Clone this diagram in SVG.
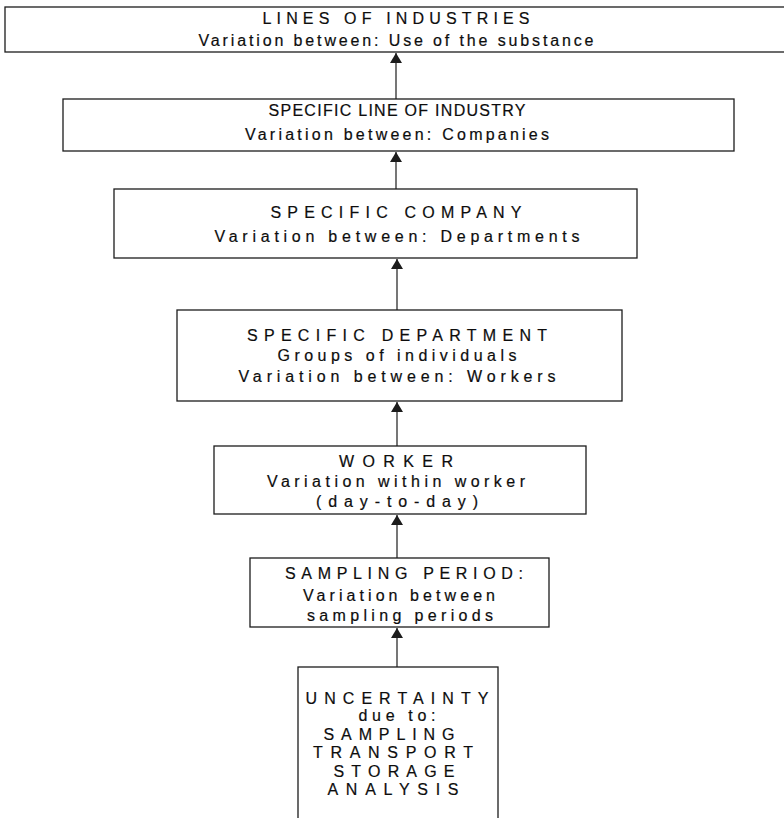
<svg xmlns="http://www.w3.org/2000/svg" width="784" height="818" viewBox="0 0 784 818">
  <style>
    .box { fill: #ffffff; stroke: #1c1c1c; stroke-width: 1.3; }
    .lbl { font-family: "Liberation Sans", Arial, Helvetica, sans-serif; font-size: 16px; fill: #0d0d0d; stroke: #0d0d0d; stroke-width: 0.2; text-anchor: middle; }
    .conn { stroke: #1c1c1c; stroke-width: 1.2; fill: none; marker-end: url(#head); }
  </style>
  <defs>
    <marker id="head" markerUnits="userSpaceOnUse" markerWidth="14" markerHeight="12" viewBox="0 0 14 12" refX="7" refY="1" orient="0">
      <path d="M7 1 L13 11 L1 11 Z" fill="#1c1c1c"/>
    </marker>
  </defs>
  <rect width="784" height="818" fill="#ffffff"/>

  <!-- connectors: each points up from the lower level to the level above -->
  <g id="connectors">
    <line class="conn" x1="396" y1="99" x2="396" y2="53"/>
    <line class="conn" x1="396" y1="189" x2="396" y2="152"/>
    <line class="conn" x1="397" y1="310" x2="397" y2="259"/>
    <line class="conn" x1="397" y1="446" x2="397" y2="402"/>
    <line class="conn" x1="397" y1="558" x2="397" y2="515"/>
    <line class="conn" x1="397" y1="667" x2="397" y2="628"/>
  </g>

  <g id="lines-of-industries">
    <rect class="box" x="5" y="7" width="790" height="45"/>
    <text class="lbl" x="396" y="24" textLength="267" lengthAdjust="spacing">LINES OF INDUSTRIES</text>
    <text class="lbl" x="396" y="46" textLength="395" lengthAdjust="spacing">Variation between: Use of the substance</text>
  </g>

  <g id="specific-line-of-industry">
    <rect class="box" x="63" y="99" width="671" height="52"/>
    <text class="lbl" x="397" y="116" textLength="257" lengthAdjust="spacing">SPECIFIC LINE OF INDUSTRY</text>
    <text class="lbl" x="397" y="140" textLength="304" lengthAdjust="spacing">Variation between: Companies</text>
  </g>

  <g id="specific-company">
    <rect class="box" x="114" y="189" width="523" height="69"/>
    <text class="lbl" x="396" y="218" textLength="251" lengthAdjust="spacing">SPECIFIC COMPANY</text>
    <text class="lbl" x="397" y="242" textLength="365" lengthAdjust="spacing">Variation between: Departments</text>
  </g>

  <g id="specific-department">
    <rect class="box" x="177" y="310" width="445" height="91"/>
    <text class="lbl" x="397" y="341" textLength="300" lengthAdjust="spacing">SPECIFIC DEPARTMENT</text>
    <text class="lbl" x="397" y="361" textLength="239" lengthAdjust="spacing">Groups of individuals</text>
    <text class="lbl" x="397" y="382" textLength="317" lengthAdjust="spacing">Variation between: Workers</text>
  </g>

  <g id="worker">
    <rect class="box" x="214" y="446" width="372" height="68"/>
    <text class="lbl" x="396" y="467" textLength="114" lengthAdjust="spacing">WORKER</text>
    <text class="lbl" x="396" y="487" textLength="258" lengthAdjust="spacing">Variation within worker</text>
    <text class="lbl" x="397" y="507" textLength="162" lengthAdjust="spacing">(day-to-day)</text>
  </g>

  <g id="sampling-period">
    <rect class="box" x="250" y="558" width="299" height="69"/>
    <text class="lbl" x="404" y="579" textLength="238" lengthAdjust="spacing">SAMPLING PERIOD:</text>
    <text class="lbl" x="399" y="601" textLength="192" lengthAdjust="spacing">Variation between</text>
    <text class="lbl" x="400" y="621" textLength="186" lengthAdjust="spacing">sampling periods</text>
  </g>

  <g id="uncertainty">
    <rect class="box" x="298" y="667" width="200" height="170"/>
    <text class="lbl" x="397" y="704" textLength="183" lengthAdjust="spacing">UNCERTAINTY</text>
    <text class="lbl" x="397" y="721" textLength="77" lengthAdjust="spacing">due to:</text>
    <text class="lbl" x="389" y="740" textLength="131" lengthAdjust="spacing">SAMPLING</text>
    <text class="lbl" x="393" y="758" textLength="160" lengthAdjust="spacing">TRANSPORT</text>
    <text class="lbl" x="394" y="777" textLength="121" lengthAdjust="spacing">STORAGE</text>
    <text class="lbl" x="393" y="795" textLength="131" lengthAdjust="spacing">ANALYSIS</text>
  </g>
</svg>
